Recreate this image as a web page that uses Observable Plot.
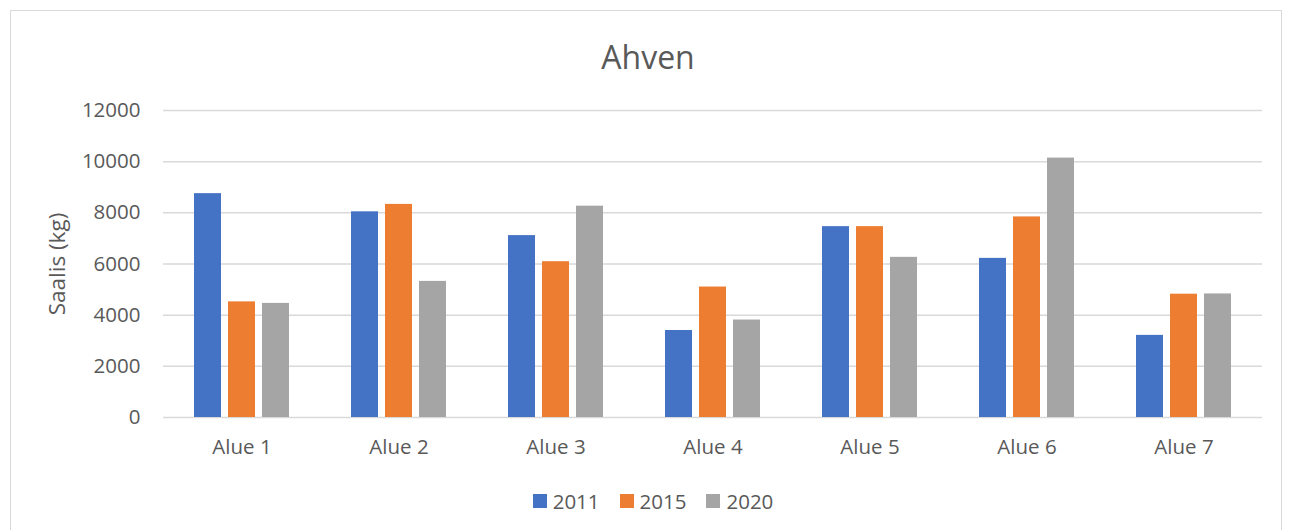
<!DOCTYPE html>
<html>
<head>
<meta charset="utf-8">
<script src="https://cdn.jsdelivr.net/npm/d3@7"></script>
<script src="https://cdn.jsdelivr.net/npm/@observablehq/plot@0.6"></script>
<style>
  html, body { margin: 0; padding: 0; background: #fff; }
  #wrap { position: relative; width: 1292px; height: 530px; overflow: hidden; font-family: "Open Sans", sans-serif; color: #595959; }
  #frame { position: absolute; left: 10px; top: 10px; width: 1272px; height: 540px; border: 1px solid #D9D9D9; box-sizing: border-box; pointer-events: none; }
  #title { height: 90px; box-sizing: border-box; padding-top: 39px; padding-left: 4px; text-align: center; font-size: 32px; line-height: 36px; }
  #legend { height: 63px; box-sizing: border-box; padding-top: 5px; padding-left: 14px; display: flex; justify-content: center; align-items: center; font-size: 20.5px; }
  .item { display: flex; align-items: center; margin: 0 10px; }
  .sw { width: 14px; height: 14px; margin-right: 6px; }
  svg { display: block; }
  g[aria-label="y-axis label"] text { font-size: 22.5px; }
</style>
</head>
<body>
<div id="wrap">
  <div id="frame"></div>
  <div id="title">Ahven</div>
  <div id="chart"></div>
  <div id="legend"></div>
</div>
<script>
const categories = ["Alue 1", "Alue 2", "Alue 3", "Alue 4", "Alue 5", "Alue 6", "Alue 7"];
const years = ["2011", "2015", "2020"];
const values2011 = [8750, 8040, 7110, 3400, 7460, 6220, 3210];
const values2015 = [4520, 8330, 6090, 5100, 7460, 7840, 4820];
const values2020 = [4460, 5320, 8260, 3810, 6260, 10140, 4830];
const colors = ["#4472C4", "#ED7D31", "#A5A5A5"];
const yTicks = [0, 2000, 4000, 6000, 8000, 10000, 12000];
const yLabel = "Saalis (kg)";
const title = "Ahven";

const series = [values2011, values2015, values2020];
const rows = [];
categories.forEach((c, i) => years.forEach((y, j) => rows.push({cat: c, year: y, value: series[j][i]})));

document.getElementById("title").textContent = title;

const chart = Plot.plot({
  width: 1292,
  height: 377,
  marginLeft: 163,
  marginRight: 30,
  marginTop: 20,
  marginBottom: 50,
  style: {fontFamily: "Open Sans", fontSize: "20.5px", color: "#595959", background: "transparent", overflow: "visible"},
  facet: {data: rows, x: "cat"},
  fx: {domain: categories, padding: 0, axis: "bottom", tickSize: 0, tickPadding: 22, label: null},
  x: {domain: years, axis: null, paddingInner: 0.2, paddingOuter: 0.843},
  y: {domain: [0, 12000], ticks: yTicks, tickSize: 0, tickPadding: 23, tickFormat: d3.format("d"), label: yLabel, labelArrow: false, labelAnchor: "center", labelOffset: 114},
  color: {domain: years, range: colors},
  marks: [
    Plot.ruleY(yTicks, {stroke: "#D9D9D9", strokeWidth: 1.5}),
    Plot.barY(rows, {x: "year", y: "value", fill: "year"})
  ]
});
document.getElementById("chart").appendChild(chart);

const legend = document.getElementById("legend");
years.forEach((y, i) => {
  const item = document.createElement("div");
  item.className = "item";
  const sw = document.createElement("div");
  sw.className = "sw";
  sw.style.background = colors[i];
  const t = document.createElement("span");
  t.textContent = y;
  item.appendChild(sw);
  item.appendChild(t);
  legend.appendChild(item);
});
</script>
</body>
</html>
